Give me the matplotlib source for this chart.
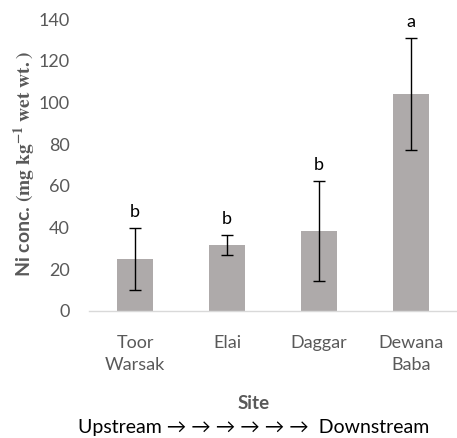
import matplotlib
matplotlib.use("Agg")
import matplotlib.pyplot as plt

# data
sites = ["Toor\nWarsak", "Elai", "Daggar", "Dewana\nBaba"]
ni_mean = [25, 31.8, 38.5, 104]
ni_err = [15, 4.8, 24, 27]
letters = ["b", "b", "b", "a"]

plt.rcParams["font.family"] = ["Lato", "DejaVu Sans"]
plt.rcParams["mathtext.fontset"] = "stix"

fig = plt.figure(figsize=(4.57, 4.38), dpi=100)
ax = fig.add_axes([0.195, 0.29, 0.805, 0.6666])

x = range(len(sites))
ax.bar(x, ni_mean, width=0.4, color="#AEAAAA", zorder=2)
ax.errorbar(x, ni_mean, yerr=ni_err, fmt="none", ecolor="black",
            elinewidth=1, capsize=4, capthick=1, zorder=3)
for i, (m, e, l) in enumerate(zip(ni_mean, ni_err, letters)):
    ax.text(i, m + e + 3.5, l, ha="center", va="bottom", fontsize=13,
            color="black")

ax.set_xlim(-0.5, len(sites) - 0.5)
ax.set_ylim(0, 140)
ax.set_yticks(range(0, 141, 20))
ax.set_xticks(list(x))
ax.set_xticklabels(sites, fontsize=13, color="#595959", linespacing=1.5)
ax.tick_params(axis="y", labelsize=13, labelcolor="#595959", length=0, pad=14)
ax.tick_params(axis="x", length=0, pad=17)

for s in ["top", "right", "left"]:
    ax.spines[s].set_visible(False)
ax.spines["bottom"].set_color("#D9D9D9")
ax.spines["bottom"].set_linewidth(1)

fig.text(0.055, 0.625, r"Ni conc. $\mathbf{(mg\ kg^{-1}\ wet\ wt.)}$",
         rotation=90, ha="center", va="center", fontsize=14,
         fontweight="bold", color="#595959")
fig.text(0.555, 0.078, "Site", ha="center", va="center", fontsize=13.5,
         fontweight="bold", color="#595959")
fig.text(0.555, 0.023, "Upstream \u2192 \u2192 \u2192 \u2192 \u2192 \u2192  Downstream",
         ha="center", va="center", fontsize=14, color="black")

fig.savefig("out.png", dpi=100)
